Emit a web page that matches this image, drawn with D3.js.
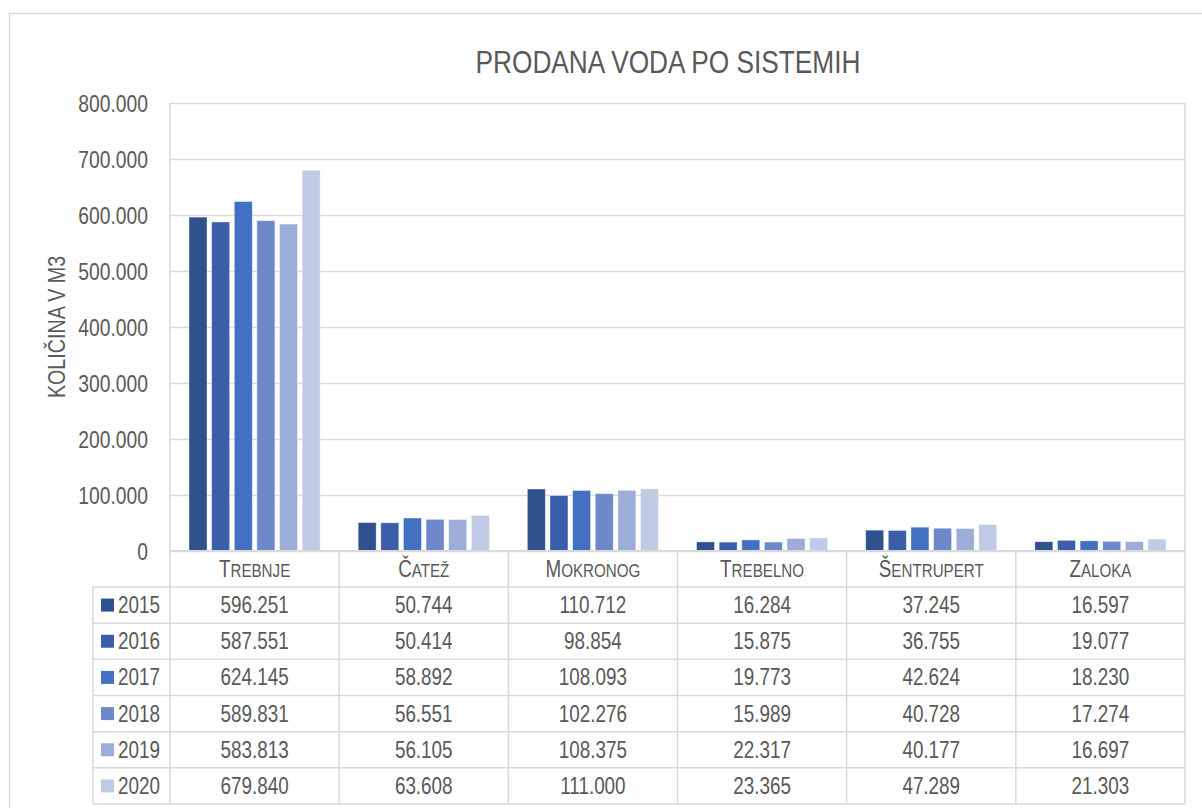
<!DOCTYPE html>
<html><head><meta charset="utf-8">
<script src="https://cdn.jsdelivr.net/npm/d3@7"></script>
<style>
html,body{margin:0;padding:0;background:#fff;overflow:hidden;}
text{font-family:"Liberation Sans",Arial,sans-serif;fill:#595959;}
</style></head>
<body>
<svg id="c" width="1202" height="808"></svg>
<script>
const categories = ["Trebnje","Čatež","Mokronog","Trebelno","Šentrupert","Zaloka"];
const years = ["2015","2016","2017","2018","2019","2020"];
const values2015 = [596251,50744,110712,16284,37245,16597];
const values2016 = [587551,50414,98854,15875,36755,19077];
const values2017 = [624145,58892,108093,19773,42624,18230];
const values2018 = [589831,56551,102276,15989,40728,17274];
const values2019 = [583813,56105,108375,22317,40177,16697];
const values2020 = [679840,63608,111000,23365,47289,21303];
const yTicks = [0,100000,200000,300000,400000,500000,600000,700000,800000];
const colors = ["#2F528F","#3A5EA8","#4370C0","#6E88CA","#9DADD9","#C0CAE5"];
const title = "PRODANA VODA PO SISTEMIH";
const yTitle = "KOLIČINA V M3";

const series = [values2015,values2016,values2017,values2018,values2019,values2020];
const svg = d3.select("#c");
const grid = "#D9D9D9";
const fmt = v => d3.format(",")(v).replace(/,/g,".");

const L = 170, R = 1185, T = 103, B = 551;
const x0 = d3.scaleBand().domain(categories).range([L,R]).paddingInner(0).paddingOuter(0);
const x1 = d3.scaleBand().domain(years).range([19, x0.bandwidth()-19]).paddingInner(0.2035).paddingOuter(0);
const y = d3.scaleLinear().domain([0,800000]).range([B,T]);

// outer border
svg.append("rect").attr("x",9.5).attr("y",13.5).attr("width",1250).attr("height",900)
  .attr("fill","none").attr("stroke",grid).attr("stroke-width",1.5);

// title
svg.append("text").attr("class","cond").attr("x",668).attr("y",73).attr("text-anchor","middle")
  .style("font-size","32px").text(title);

// gridlines
const yAxis = d3.axisLeft(y).tickValues(yTicks).tickSize(-(R-L)).tickFormat(d => d===0 ? "0" : fmt(d));
const ga = svg.append("g").attr("transform",`translate(${L},0)`).call(yAxis);
ga.select(".domain").remove();
ga.selectAll(".tick line").attr("stroke",grid).attr("stroke-width",1.5);
ga.selectAll(".tick text").attr("class","cond").attr("x",-22).attr("dy","0.36em").style("font-size","23.5px").attr("fill","#595959");

// plot side borders
svg.append("line").attr("x1",L).attr("x2",L).attr("y1",T).attr("y2",B).attr("stroke",grid).attr("stroke-width",1.5);
svg.append("line").attr("x1",R).attr("x2",R).attr("y1",T).attr("y2",B).attr("stroke",grid).attr("stroke-width",1.5);

// bars
const g = svg.append("g");
categories.forEach((c,ci) => {
  years.forEach((yr,si) => {
    const v = series[si][ci];
    g.append("rect")
      .attr("x", x0(c) + x1(yr))
      .attr("y", y(v))
      .attr("width", x1.bandwidth())
      .attr("height", y(0) - y(v))
      .attr("fill", colors[si])
      .attr("stroke", "#ffffff").attr("stroke-opacity",0.5).attr("stroke-width",0.8);
  });
});

// y title
svg.append("text").attr("class","cond").attr("transform",`translate(65,${(T+B)/2}) rotate(-90)`)
  .attr("text-anchor","middle").style("font-size","24px").text(yTitle);

// data table
const rowH = (804 - 587)/6;
const headTop = B, headBot = 587;
const tableBottom = 804;
const legL = 93;
const tb = svg.append("g");
tb.append("line").attr("x1",L).attr("x2",R).attr("y1",headTop).attr("y2",headTop).attr("stroke",grid).attr("stroke-width",2);
for (let i=0;i<=6;i++){
  const yy = headBot + i*rowH;
  tb.append("line").attr("x1",legL).attr("x2",R).attr("y1",yy).attr("y2",yy).attr("stroke",grid).attr("stroke-width",1.5);
}
tb.append("line").attr("x1",legL).attr("x2",legL).attr("y1",headBot).attr("y2",tableBottom).attr("stroke",grid).attr("stroke-width",1.5);
categories.forEach(c => {
  const xx = x0(c);
  tb.append("line").attr("x1",xx).attr("x2",xx).attr("y1",headTop).attr("y2",tableBottom).attr("stroke",grid).attr("stroke-width",1.5);
});
tb.append("line").attr("x1",R).attr("x2",R).attr("y1",headTop).attr("y2",tableBottom).attr("stroke",grid).attr("stroke-width",1.5);

// header labels (small caps), condensed via horizontal scale
categories.forEach(c => {
  const t = tb.append("text")
    .attr("transform", `translate(${x0(c)+x0.bandwidth()/2},577) scale(0.82,1)`)
    .attr("x",0).attr("y",0).attr("text-anchor","middle");
  t.append("tspan").style("font-size","23px").text(c[0].toUpperCase());
  t.append("tspan").style("font-size","18.5px").text(c.slice(1).toUpperCase());
});

// rows
years.forEach((yr,si) => {
  const top = headBot + si*rowH;
  const cy = top + rowH/2;
  tb.append("rect").attr("x",101).attr("y",cy-6.5).attr("width",13).attr("height",13).attr("fill",colors[si]);
  tb.append("text").attr("class","cond").attr("x",118).attr("y",cy+8).style("font-size","23px").text(yr);
  categories.forEach((c,ci) => {
    tb.append("text").attr("class","cond").attr("x", x0(c)+x0.bandwidth()/2).attr("y", cy+8).attr("text-anchor","middle")
      .style("font-size","23px").text(fmt(series[si][ci]));
  });
});

// condense single-run texts to mimic the narrow face of the original
svg.selectAll("text.cond").each(function(){
  const len = this.getComputedTextLength();
  this.setAttribute("textLength", (len*0.82).toFixed(2));
  this.setAttribute("lengthAdjust","spacingAndGlyphs");
});
</script>
</body></html>
